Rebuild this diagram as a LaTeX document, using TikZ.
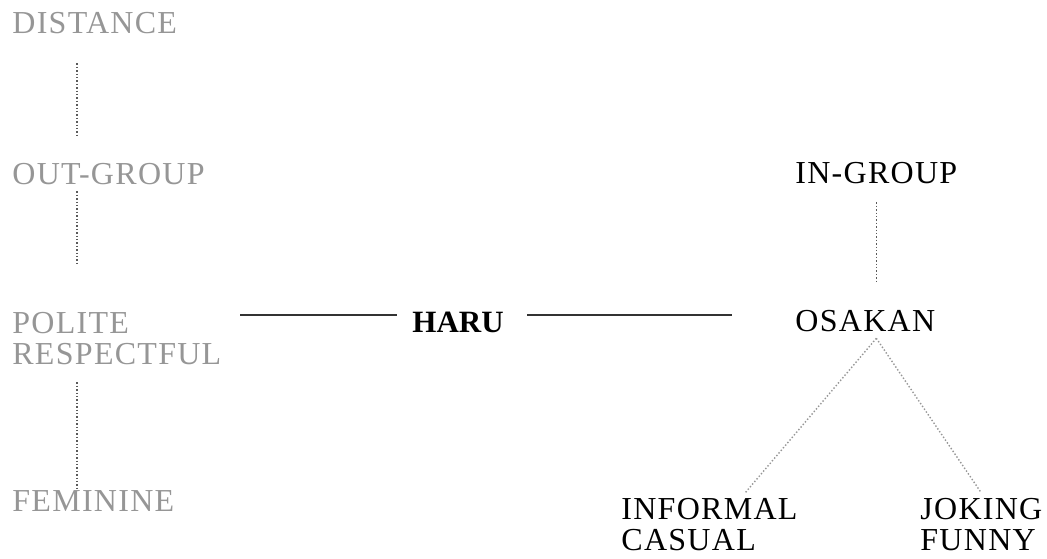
\documentclass[tikz,border=0pt]{standalone}
\usepackage{fontspec}
\setmainfont{Liberation Serif}[LetterSpace=4]
\definecolor{faded}{RGB}{150,150,150}
\definecolor{dotgray}{RGB}{90,90,90}
\begin{document}
\begin{tikzpicture}[x=0.5pt,y=-0.5pt]
			\tikzset{lbl/.style={inner sep=0pt, anchor=north west, align=left, font=\fontsize{16}{15.5}\selectfont},
				far/.style={lbl, text=faded},
				near/.style={lbl, text=black},
				dotline/.style={draw=dotgray, densely dotted, line width=0.7pt},
				tieline/.style={draw=black!80, line width=1pt}}
			\useasboundingbox (0,0) rectangle (1047,558);
			
			\node[far] (dist) at (12,12) {DISTANCE};
			\node[far] (out) at (12,163) {OUT-GROUP};
			\node[far] (pol) at (12,312) {POLITE\\RESPECTFUL};
			\node[far] (fem) at (12,490) {FEMININE};
			\node[near, font=\fontsize{15.5}{15.5}\selectfont\bfseries\addfontfeature{LetterSpace=0}] (haru) at (412,312) {HARU};
			\node[near] (ing) at (795,162) {IN-GROUP};
			\node[near] (osa) at (795,310) {OSAKAN};
			\node[near] (inf) at (621,498) {INFORMAL\\CASUAL};
			\node[near] (jok) at (920,498) {JOKING\\FUNNY};
			
			% axis of the left column
			\coordinate (axis) at (77,0);
			\coordinate (tieL) at (240,315);
			\draw[dotline, shorten <=29*0.5pt, shorten >=27*0.5pt] (axis |- dist.south) -- (axis |- out.north);
			\draw[dotline, shorten <=6*0.5pt, shorten >=47*0.5pt] (axis |- out.south) -- (axis |- pol.north);
			\draw[dotline, shorten <=17*0.5pt] (axis |- pol.south) -- (axis |- fem.north);
			\draw[tieline, shorten >=15*0.5pt] (tieL) -- (tieL -| haru.west);
			\draw[tieline, shorten <=23*0.5pt, shorten >=63*0.5pt] (tieL -| haru.east) -- (tieL -| osa.west);
			\draw[dotline, shorten <=18*0.5pt, shorten >=28*0.5pt] (ing.south) -- (ing.south |- osa.north);
			\coordinate (fork) at ([yshift=-6*0.5pt]ing.south |- osa.south);
			\draw[dotline, draw=faded] (fork) -- ([xshift=124*0.5pt, yshift=5*0.5pt]inf.north west);
			\draw[dotline, draw=faded] (fork) -- ([yshift=5*0.5pt]jok.north);
		\end{tikzpicture}
\end{document}
